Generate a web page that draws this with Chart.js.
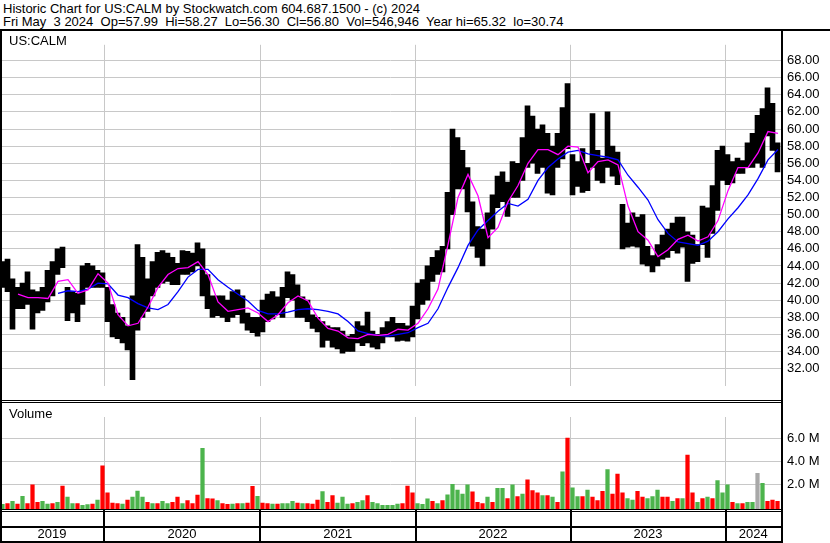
<!DOCTYPE html>
<html><head><meta charset="utf-8">
<script src="https://cdn.jsdelivr.net/npm/chart.js@4.4.1/dist/chart.umd.min.js"></script>
<style>
html,body{margin:0;padding:0;background:#fff;}
#wrap{position:relative;width:830px;height:543px;overflow:hidden;background:#fff;font-family:"Liberation Sans",Arial,sans-serif;color:#000;}
.hdr{position:absolute;left:3px;font-size:13px;line-height:13.4px;white-space:pre;}
.ln{position:absolute;background:#000;z-index:5;}
canvas{position:absolute;left:0;}
.lbl{position:absolute;font-size:13px;line-height:13px;white-space:pre;z-index:4;}
</style></head><body>
<div id="wrap">
<div class="hdr" style="top:2px">Historic Chart for US:CALM by Stockwatch.com 604.687.1500 - (c) 2024
Fri May  3 2024  Op=57.99  Hi=58.27  Lo=56.30  Cl=56.80  Vol=546,946  Year hi=65.32  lo=30.74</div>
<canvas id="pc" width="830" height="369" style="top:31px"></canvas>
<canvas id="vc" width="830" height="140" style="top:403px"></canvas>
<div class="lbl" style="left:9px;top:34px">US:CALM</div>
<div class="lbl" style="left:9px;top:407px">Volume</div>
<div class="ln" style="left:0;top:29px;width:830px;height:2px"></div>
<div class="ln" style="left:0;top:29px;width:2px;height:514px"></div>
<div class="ln" style="left:781px;top:29px;width:2px;height:514px"></div>
<div class="ln" style="left:0;top:400px;width:783px;height:1px"></div>
<div class="ln" style="left:0;top:402px;width:783px;height:1px"></div>
<div class="ln" style="left:0;top:509px;width:783px;height:1px"></div>
<div class="ln" style="left:0;top:511px;width:783px;height:1px"></div>
<div class="ln" style="left:0;top:526px;width:783px;height:2px"></div>
<div class="ln" style="left:0;top:541px;width:783px;height:2px"></div>
</div>
<script>
// ---- data ----
// price range per period bar (high / low), one bar = ~8 trading days
const barHigh = [
44.5,44.8,42.5,41.5,42.0,43.3,41.2,41.0,41.5,43.5,
44.5,46.0,46.2,41.5,41.0,40.8,44.0,44.3,44.0,43.5,
43.2,41.5,39.5,38.5,38.0,37.0,40.5,46.5,45.0,42.5,
44.5,45.6,45.8,45.5,45.0,44.3,45.8,45.7,45.5,46.7,
46.0,43.0,40.5,40.5,40.5,40.0,41.0,41.2,40.5,38.5,
38.0,38.0,40.0,40.7,41.0,40.4,41.5,43.3,43.0,41.8,
40.4,40.0,38.3,38.0,37.5,37.0,36.8,36.8,36.4,35.8,
36.0,37.5,37.0,38.6,36.4,36.0,36.8,37.5,38.0,37.3,
37.3,37.0,39.3,42.0,42.4,44.0,45.0,45.8,46.3,52.6,
60.0,59.0,57.5,55.5,51.5,48.6,48.3,50.2,52.3,54.5,
55.0,53.8,56.2,56.0,59.0,62.7,61.5,60.0,60.5,59.5,
58.0,59.5,62.5,65.3,57.0,56.2,57.7,56.0,61.8,57.5,
56.6,62.0,58.0,57.3,51.2,49.0,50.2,49.7,50.0,46.3,
45.2,46.5,47.6,48.3,49.0,49.7,49.7,48.0,47.6,46.5,
51.0,50.8,53.4,57.5,58.0,57.0,56.2,56.6,56.3,58.4,
59.5,61.6,62.4,64.8,63.0,58.4];
const barLow = [
41.5,41.0,36.6,39.0,39.0,39.5,36.6,38.5,38.8,39.8,
40.5,43.0,43.8,37.6,38.5,37.5,39.5,41.5,41.5,41.5,
41.5,37.5,35.7,35.5,35.0,34.2,30.7,36.5,38.0,38.7,
40.5,41.5,42.0,42.2,41.8,41.8,43.0,43.0,43.3,44.0,
40.5,39.0,38.0,38.2,38.0,37.5,38.0,38.3,37.3,36.5,
36.2,35.8,36.3,37.5,37.8,38.3,38.0,40.3,40.0,38.0,
38.0,37.5,36.7,36.3,34.5,35.3,34.5,34.3,33.8,34.0,
34.0,35.0,34.7,35.0,34.5,34.3,35.0,35.7,35.7,35.2,
35.3,35.2,35.7,37.8,39.5,40.0,42.2,43.0,43.3,46.0,
50.0,53.0,53.0,50.3,46.3,45.0,44.0,46.0,48.3,50.8,
51.5,49.8,52.0,52.0,54.0,55.5,56.0,54.8,55.5,52.5,
52.3,55.5,56.5,57.7,52.3,53.3,52.6,52.8,55.5,54.0,
53.7,55.5,54.5,53.5,46.0,46.2,46.3,46.2,44.2,44.0,
43.3,44.0,44.8,45.0,45.8,45.5,46.2,42.2,44.3,44.5,
46.5,45.0,47.8,50.5,54.0,53.5,53.7,54.8,54.8,55.5,
55.5,56.0,55.5,59.2,57.5,55.0];
// moving averages, sampled every second bar
const maShort = [
null,40.7,40.3,40.3,40.2,42.2,42.4,40.8,41.2,43.1,
42.0,38.3,37.0,37.3,39.2,41.5,43.0,43.7,43.8,44.5,
43.0,39.8,38.7,38.9,39.1,38.5,37.5,38.3,39.7,40.5,
39.9,37.9,36.7,36.4,35.6,35.5,36.0,35.9,36.0,36.6,
36.5,37.3,39.0,41.3,46.5,52.0,54.7,52.2,47.3,48.5,
51.5,53.4,56.0,57.6,57.6,57.0,58.0,57.9,54.9,56.2,
56.4,55.8,51.0,48.0,47.0,45.1,45.9,47.1,47.6,46.9,
47.4,49.3,52.8,55.5,55.5,57.2,59.7,59.5];
const maLong = [
null,null,null,null,null,40.8,41.1,41.0,41.3,42.0,
41.9,40.6,40.3,39.6,39.1,38.9,39.5,41.0,42.7,43.6,
43.6,42.4,41.5,40.7,39.9,38.8,38.4,38.4,38.6,38.9,
39.0,38.9,38.7,38.4,37.5,36.4,36.1,35.9,35.8,36.0,
36.2,36.8,37.3,39.0,41.5,43.8,46.4,48.2,49.3,50.4,
51.3,51.0,51.8,54.0,55.5,56.5,57.3,57.5,57.1,56.9,
56.7,56.4,54.6,53.2,51.7,49.4,47.8,46.8,46.6,46.4,
46.9,48.0,49.5,50.8,52.3,54.2,56.4,57.6];
// volume (millions) per period bar and direction (1 up/green, 0 down/red, 2 unchanged/grey)
const volume = [
0.23,0.3,0.5,0.25,0.95,0.3,1.95,0.4,0.5,0.25,
0.3,0.4,1.85,0.87,0.3,0.3,0.15,0.2,0.25,0.6,
3.64,1.25,0.35,0.3,0.25,0.6,0.87,1.4,0.87,0.4,
0.3,0.3,0.5,0.3,0.4,0.87,0.3,0.56,0.3,1.05,
5.18,0.75,0.72,0.56,0.3,0.23,0.25,0.3,0.3,0.35,
1.82,0.95,0.35,0.3,0.25,0.25,0.3,0.3,0.5,0.35,
0.3,0.3,0.25,0.6,1.35,0.4,1.0,0.35,0.87,0.25,
0.3,0.4,0.56,1.0,0.4,0.3,0.15,0.15,0.15,0.25,
0.3,1.85,1.25,0.3,0.23,0.72,0.5,0.3,0.56,1.08,
2.0,1.5,1.13,1.95,1.33,0.4,0.3,0.87,0.4,1.64,
1.64,0.75,1.95,0.92,1.13,2.41,1.44,1.25,1.0,1.0,
0.87,0.4,3.1,6.1,1.7,0.92,0.92,1.5,0.87,0.56,
1.38,3.3,1.13,2.92,1.25,0.75,0.6,1.38,0.87,0.75,
0.92,1.5,0.87,0.87,0.5,0.75,0.75,4.6,1.25,0.4,
0.75,0.87,0.75,2.33,1.25,1.95,0.4,0.3,0.3,0.4,
0.4,2.97,2.1,0.5,0.6,0.5];
const volUp = [
1,0,1,0,1,0,0,0,1,1,
0,1,0,1,1,0,1,1,0,1,
0,0,0,0,1,0,1,1,1,0,
1,0,1,1,0,0,1,0,0,0,
1,0,0,1,0,0,1,0,1,0,
0,1,0,0,1,0,1,1,1,0,
1,0,0,0,1,0,0,1,1,1,
0,1,1,0,1,1,1,1,1,1,
0,0,0,1,1,1,0,1,0,1,
1,1,1,1,0,0,0,1,0,1,
1,0,1,0,1,0,0,0,1,0,
1,0,1,0,1,1,0,1,0,0,
0,1,0,0,0,1,1,0,0,1,
1,1,0,0,1,0,1,0,0,1,
0,1,0,1,1,1,0,1,0,1,
1,2,1,0,0,0];
// axis ticks / labels
const yearStarts = [20.8, 52.0, 83.1, 114.1, 145.1]; // in bar units
const yearLabels = ['2019','2020','2021','2022','2023','2024'];
const priceTicks = [32,34,36,38,40,42,44,46,48,50,52,54,56,58,60,62,64,66,68];
const volTicks = [2,4,6];

// ---- chart building ----
const X_MAX = 156.2;
const GRID = '#c8c8c8';
const FONT = {family:'"Liberation Sans", Arial, sans-serif', size:13};
Chart.defaults.font.family = FONT.family;
Chart.defaults.font.size = 13;
Chart.defaults.color = '#000';

const priceBars = barHigh.map((h,i)=>({x:i+0.5, y:[barLow[i], h]}));
const toPts = arr => arr.map((v,k)=>({x:2*k+1.6, y:v})).filter(p=>p.y!==null);
const volBars = volume.map((v,i)=>({x:i+0.5, y:v}));
const volColors = volUp.map(u => u===1 ? '#4cb44c' : (u===0 ? '#ff0000' : '#a8a8a8'));
const edges = [0].concat(yearStarts, [X_MAX]);
const yearMids = yearLabels.map((_,i)=>(edges[i]+edges[i+1])/2);

const common = {animation:false, responsive:false, maintainAspectRatio:false, devicePixelRatio:1,
  layout:{padding:0}, plugins:{legend:{display:false}, tooltip:{enabled:false}}};

new Chart(document.getElementById('pc'), {
  data:{datasets:[
    {type:'line', data:toPts(maShort), borderColor:'#ff00ff', borderWidth:1.3, pointRadius:0, tension:0, order:0},
    {type:'line', data:toPts(maLong), borderColor:'#0000ff', borderWidth:1.3, pointRadius:0, tension:0, order:1},
    {type:'bar', data:priceBars, backgroundColor:'#000', borderWidth:0, barPercentage:1, categoryPercentage:1, order:2}
  ]},
  options:Object.assign({}, common, {scales:{
    x:{type:'linear', min:0, max:X_MAX, offset:false, afterBuildTicks:s=>{s.ticks=yearStarts.map(v=>({value:v}));},
       ticks:{display:false}, grid:{color:GRID, drawTicks:false, offset:false}, border:{display:false}, afterFit:s=>{s.height=0;}},
    y:{type:'linear', position:'right', min:29.95, max:69.84,
       afterBuildTicks:s=>{s.ticks=priceTicks.map(v=>({value:v}));},
       ticks:{callback:v=>v.toFixed(2), font:FONT, color:'#000', padding:6, autoSkip:false},
       grid:{color:GRID, drawTicks:false}, border:{display:false}, afterFit:s=>{s.width=49;}}
  }})
});

const bandPlugin = {id:'band', afterDraw(chart){
  const ctx = chart.ctx, xs = chart.scales.x, b = chart.chartArea.bottom;
  ctx.save(); ctx.fillStyle = '#000';
  yearStarts.forEach(v=>{ const px = Math.round(xs.getPixelForValue(v)); ctx.fillRect(px-1, b, 2, chart.height-b); });
  ctx.restore();
}};

new Chart(document.getElementById('vc'), {
  type:'bar',
  data:{datasets:[{data:volBars, backgroundColor:volColors, borderWidth:0, barPercentage:0.85, categoryPercentage:1, base:-0.21}]},
  options:Object.assign({}, common, {scales:{
    x:{type:'linear', position:'bottom', min:0, max:X_MAX, offset:false,
       afterBuildTicks:s=>{s.ticks=yearMids.map(v=>({value:v}));},
       ticks:{callback:(v,i)=>yearLabels[i], font:FONT, color:'#000', padding:10, maxRotation:0, autoSkip:false},
       grid:{display:false, offset:false}, border:{display:false}, afterFit:s=>{s.height=34;}},
    xg:{type:'linear', position:'top', min:0, max:X_MAX, offset:false,
       afterBuildTicks:s=>{s.ticks=yearStarts.map(v=>({value:v}));},
       ticks:{display:false}, grid:{color:GRID, drawTicks:false, offset:false}, border:{display:false}, afterFit:s=>{s.height=0;}},
    y:{type:'linear', position:'right', min:-0.21, max:7.95,
       afterBuildTicks:s=>{s.ticks=volTicks.map(v=>({value:v}));},
       ticks:{callback:v=>v.toFixed(1)+' M', font:FONT, color:'#000', padding:6, autoSkip:false},
       grid:{color:GRID, drawTicks:false}, border:{display:false}, afterFit:s=>{s.width=49;}}
  }})
  , plugins:[bandPlugin]
});
</script>
</body></html>
